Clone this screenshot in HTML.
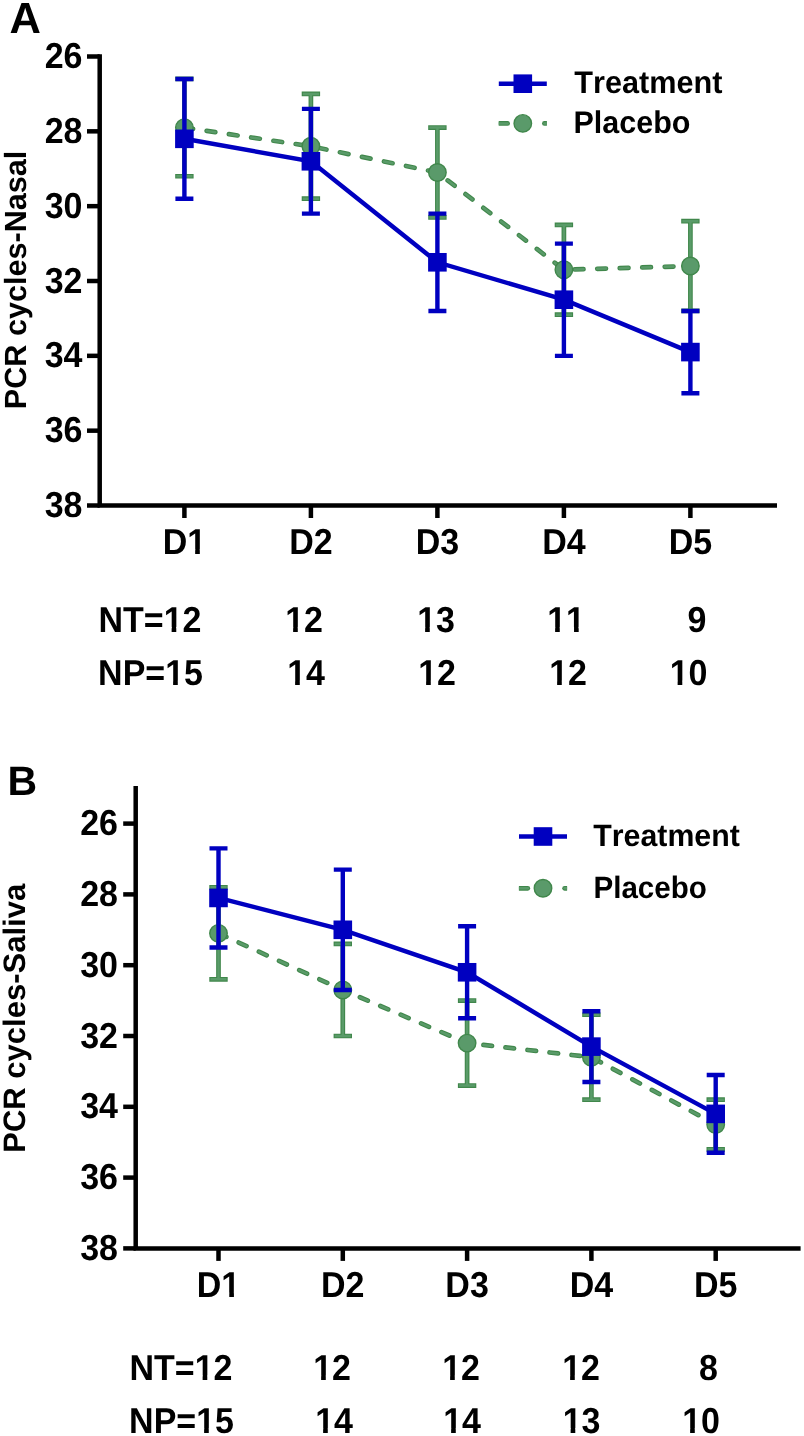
<!DOCTYPE html>
<html><head><meta charset="utf-8"><style>
html,body{margin:0;padding:0;background:#fff;}
svg{display:block;will-change:transform;}
text{font-family:"Liberation Sans", sans-serif;font-weight:bold;fill:#000;font-kerning:none;text-rendering:geometricPrecision;}
</style></head><body>
<svg width="804" height="1436" viewBox="0 0 804 1436">
<rect width="804" height="1436" fill="#fff"/>
<path d="M99.7 54.2 V505.504 H777" fill="none" stroke="#000" stroke-width="4.5" stroke-linecap="butt"/>
<line x1="87" y1="56.50" x2="99.7" y2="56.50" stroke="#000" stroke-width="4.5"/>
<text transform="translate(82.5 68.10) scale(1 1.06)" text-anchor="end" font-size="34">26</text>
<line x1="87" y1="131.33" x2="99.7" y2="131.33" stroke="#000" stroke-width="4.5"/>
<text transform="translate(82.5 142.93) scale(1 1.06)" text-anchor="end" font-size="34">28</text>
<line x1="87" y1="206.17" x2="99.7" y2="206.17" stroke="#000" stroke-width="4.5"/>
<text transform="translate(82.5 217.77) scale(1 1.06)" text-anchor="end" font-size="34">30</text>
<line x1="87" y1="281.00" x2="99.7" y2="281.00" stroke="#000" stroke-width="4.5"/>
<text transform="translate(82.5 292.60) scale(1 1.06)" text-anchor="end" font-size="34">32</text>
<line x1="87" y1="355.84" x2="99.7" y2="355.84" stroke="#000" stroke-width="4.5"/>
<text transform="translate(82.5 367.44) scale(1 1.06)" text-anchor="end" font-size="34">34</text>
<line x1="87" y1="430.67" x2="99.7" y2="430.67" stroke="#000" stroke-width="4.5"/>
<text transform="translate(82.5 442.27) scale(1 1.06)" text-anchor="end" font-size="34">36</text>
<line x1="87" y1="505.50" x2="99.7" y2="505.50" stroke="#000" stroke-width="4.5"/>
<text transform="translate(82.5 517.10) scale(1 1.06)" text-anchor="end" font-size="34">38</text>
<line x1="184.40" y1="505.504" x2="184.40" y2="518.00" stroke="#000" stroke-width="4.5"/>
<text transform="translate(184.40 553.7) scale(1 1.06)" text-anchor="middle" font-size="34">D1</text>
<rect x="187.22" y="549.12" width="7.94" height="5.78" fill="#fff"/>
<rect x="199.82" y="549.12" width="6.31" height="5.78" fill="#fff"/>
<line x1="310.90" y1="505.504" x2="310.90" y2="518.00" stroke="#000" stroke-width="4.5"/>
<text transform="translate(310.90 553.7) scale(1 1.06)" text-anchor="middle" font-size="34">D2</text>
<line x1="437.40" y1="505.504" x2="437.40" y2="518.00" stroke="#000" stroke-width="4.5"/>
<text transform="translate(437.40 553.7) scale(1 1.06)" text-anchor="middle" font-size="34">D3</text>
<line x1="563.90" y1="505.504" x2="563.90" y2="518.00" stroke="#000" stroke-width="4.5"/>
<text transform="translate(563.90 553.7) scale(1 1.06)" text-anchor="middle" font-size="34">D4</text>
<line x1="690.40" y1="505.504" x2="690.40" y2="518.00" stroke="#000" stroke-width="4.5"/>
<text transform="translate(690.40 553.7) scale(1 1.06)" text-anchor="middle" font-size="34">D5</text>
<path d="M184.40 127.59 L310.90 146.30 L437.40 172.49 L563.90 269.78 L690.40 266.04" fill="none" stroke="#40874b" stroke-width="4.7" stroke-dasharray="8.75 13.75" stroke-linecap="round" stroke-linejoin="round"/>
<path d="M184.40 127.59 L310.90 146.30 L437.40 172.49 L563.90 269.78 L690.40 266.04" fill="none" stroke="#5a9b69" stroke-width="2.5" stroke-dasharray="8.75 13.75" stroke-linecap="round" stroke-linejoin="round"/>
<path d="M184.40 78.95 V176.23 M175.20 78.95 H193.60 M175.20 176.23 H193.60" stroke="#40874b" stroke-width="4.7" fill="none"/>
<path d="M184.40 78.95 V176.23 M176.30 78.95 H192.50 M176.30 176.23 H192.50" stroke="#5a9b69" stroke-width="2.5" fill="none"/>
<path d="M310.90 93.92 V198.68 M301.70 93.92 H320.10 M301.70 198.68 H320.10" stroke="#40874b" stroke-width="4.7" fill="none"/>
<path d="M310.90 93.92 V198.68 M302.80 93.92 H319.00 M302.80 198.68 H319.00" stroke="#5a9b69" stroke-width="2.5" fill="none"/>
<path d="M437.40 127.59 V217.39 M428.20 127.59 H446.60 M428.20 217.39 H446.60" stroke="#40874b" stroke-width="4.7" fill="none"/>
<path d="M437.40 127.59 V217.39 M429.30 127.59 H445.50 M429.30 217.39 H445.50" stroke="#5a9b69" stroke-width="2.5" fill="none"/>
<path d="M563.90 224.88 V314.68 M554.70 224.88 H573.10 M554.70 314.68 H573.10" stroke="#40874b" stroke-width="4.7" fill="none"/>
<path d="M563.90 224.88 V314.68 M555.80 224.88 H572.00 M555.80 314.68 H572.00" stroke="#5a9b69" stroke-width="2.5" fill="none"/>
<path d="M690.40 221.13 V310.94 M681.20 221.13 H699.60 M681.20 310.94 H699.60" stroke="#40874b" stroke-width="4.7" fill="none"/>
<path d="M690.40 221.13 V310.94 M682.30 221.13 H698.50 M682.30 310.94 H698.50" stroke="#5a9b69" stroke-width="2.5" fill="none"/>
<circle cx="184.40" cy="127.59" r="8.75" fill="#5a9a6a" stroke="#40874b" stroke-width="1.4"/>
<circle cx="310.90" cy="146.30" r="8.75" fill="#5a9a6a" stroke="#40874b" stroke-width="1.4"/>
<circle cx="437.40" cy="172.49" r="8.75" fill="#5a9a6a" stroke="#40874b" stroke-width="1.4"/>
<circle cx="563.90" cy="269.78" r="8.75" fill="#5a9a6a" stroke="#40874b" stroke-width="1.4"/>
<circle cx="690.40" cy="266.04" r="8.75" fill="#5a9a6a" stroke="#40874b" stroke-width="1.4"/>
<path d="M184.40 138.82 L310.90 161.27 L437.40 262.29 L563.90 299.71 L690.40 352.09" fill="none" stroke="#0000c0" stroke-width="4.5"/>
<path d="M184.40 78.95 V198.68 M175.40 78.95 H193.40 M175.40 198.68 H193.40" stroke="#0000c0" stroke-width="4.4" fill="none"/>
<path d="M310.90 108.88 V213.65 M301.90 108.88 H319.90 M301.90 213.65 H319.90" stroke="#0000c0" stroke-width="4.4" fill="none"/>
<path d="M437.40 213.65 V310.94 M428.40 213.65 H446.40 M428.40 310.94 H446.40" stroke="#0000c0" stroke-width="4.4" fill="none"/>
<path d="M563.90 243.59 V355.84 M554.90 243.59 H572.90 M554.90 355.84 H572.90" stroke="#0000c0" stroke-width="4.4" fill="none"/>
<path d="M690.40 310.94 V393.25 M681.40 310.94 H699.40 M681.40 393.25 H699.40" stroke="#0000c0" stroke-width="4.4" fill="none"/>
<rect x="175.10" y="129.52" width="18.6" height="18.6" fill="#0000c0"/>
<rect x="301.60" y="151.97" width="18.6" height="18.6" fill="#0000c0"/>
<rect x="428.10" y="252.99" width="18.6" height="18.6" fill="#0000c0"/>
<rect x="554.60" y="290.41" width="18.6" height="18.6" fill="#0000c0"/>
<rect x="681.10" y="342.79" width="18.6" height="18.6" fill="#0000c0"/>
<line x1="498.79999999999995" y1="83.7" x2="546.8" y2="83.7" stroke="#0000c0" stroke-width="4.5"/>
<rect x="513.5" y="74.4" width="18.6" height="18.6" fill="#0000c0"/>
<clipPath id="lcA"><rect x="498.69999999999993" y="117.4" width="48.2" height="12"/></clipPath>
<g clip-path="url(#lcA)">
<line x1="492.79999999999995" y1="123.4" x2="507.59999999999997" y2="123.4" stroke="#40874b" stroke-width="4.7" stroke-linecap="round"/>
<line x1="492.79999999999995" y1="123.4" x2="507.59999999999997" y2="123.4" stroke="#5a9b69" stroke-width="2.5" stroke-linecap="round"/>
<line x1="544.4" y1="123.4" x2="552.8" y2="123.4" stroke="#40874b" stroke-width="4.7" stroke-linecap="round"/>
<line x1="544.4" y1="123.4" x2="552.8" y2="123.4" stroke="#5a9b69" stroke-width="2.5" stroke-linecap="round"/>
</g>
<circle cx="522.8" cy="123.4" r="8.75" fill="#5a9a6a" stroke="#40874b" stroke-width="1.4"/>
<text transform="translate(574.3 93.3) scale(1.005 1.03)" font-size="30.5">Treatment</text>
<text transform="translate(573.5 132.8) scale(1.0 1.03)" font-size="30.5">Placebo</text>
<text x="9.5" y="32.8" font-size="43.5">A</text>
<text transform="translate(25.8 279.9) rotate(-90)" text-anchor="middle" font-size="30.6">PCR cycles-Nasal</text>
<text transform="translate(201.5 631.5) scale(1 1.06)" text-anchor="end" font-size="34">NT=12</text>
<rect x="163.68" y="626.92" width="7.94" height="5.78" fill="#fff"/>
<rect x="176.28" y="626.92" width="6.31" height="5.78" fill="#fff"/>
<text transform="translate(323 631.5) scale(1 1.06)" text-anchor="end" font-size="34">12</text>
<rect x="285.18" y="626.92" width="7.94" height="5.78" fill="#fff"/>
<rect x="297.78" y="626.92" width="6.31" height="5.78" fill="#fff"/>
<text transform="translate(455 631.5) scale(1 1.06)" text-anchor="end" font-size="34">13</text>
<rect x="417.18" y="626.92" width="7.94" height="5.78" fill="#fff"/>
<rect x="429.78" y="626.92" width="6.31" height="5.78" fill="#fff"/>
<text transform="translate(585 631.5) scale(1 1.06)" text-anchor="end" font-size="34">11</text>
<rect x="547.18" y="626.92" width="7.94" height="5.78" fill="#fff"/>
<rect x="559.78" y="626.92" width="6.31" height="5.78" fill="#fff"/>
<rect x="566.09" y="626.92" width="7.94" height="5.78" fill="#fff"/>
<rect x="578.69" y="626.92" width="6.31" height="5.78" fill="#fff"/>
<text transform="translate(706.5 631.5) scale(1 1.06)" text-anchor="end" font-size="34">9</text>
<text transform="translate(203 685.3) scale(1 1.06)" text-anchor="end" font-size="34">NP=15</text>
<rect x="165.18" y="680.72" width="7.94" height="5.78" fill="#fff"/>
<rect x="177.78" y="680.72" width="6.31" height="5.78" fill="#fff"/>
<text transform="translate(325 685.3) scale(1 1.06)" text-anchor="end" font-size="34">14</text>
<rect x="287.18" y="680.72" width="7.94" height="5.78" fill="#fff"/>
<rect x="299.78" y="680.72" width="6.31" height="5.78" fill="#fff"/>
<text transform="translate(456 685.3) scale(1 1.06)" text-anchor="end" font-size="34">12</text>
<rect x="418.18" y="680.72" width="7.94" height="5.78" fill="#fff"/>
<rect x="430.78" y="680.72" width="6.31" height="5.78" fill="#fff"/>
<text transform="translate(587 685.3) scale(1 1.06)" text-anchor="end" font-size="34">12</text>
<rect x="549.18" y="680.72" width="7.94" height="5.78" fill="#fff"/>
<rect x="561.78" y="680.72" width="6.31" height="5.78" fill="#fff"/>
<text transform="translate(707.5 685.3) scale(1 1.06)" text-anchor="end" font-size="34">10</text>
<rect x="669.68" y="680.72" width="7.94" height="5.78" fill="#fff"/>
<rect x="682.28" y="680.72" width="6.31" height="5.78" fill="#fff"/>
<path d="M135.7 785.9 V1248.4 H800.6" fill="none" stroke="#000" stroke-width="4.5" stroke-linecap="butt"/>
<line x1="123.2" y1="823.60" x2="135.7" y2="823.60" stroke="#000" stroke-width="4.5"/>
<text transform="translate(118 835.20) scale(1 1.06)" text-anchor="end" font-size="34">26</text>
<line x1="123.2" y1="894.40" x2="135.7" y2="894.40" stroke="#000" stroke-width="4.5"/>
<text transform="translate(118 906.00) scale(1 1.06)" text-anchor="end" font-size="34">28</text>
<line x1="123.2" y1="965.20" x2="135.7" y2="965.20" stroke="#000" stroke-width="4.5"/>
<text transform="translate(118 976.80) scale(1 1.06)" text-anchor="end" font-size="34">30</text>
<line x1="123.2" y1="1036.00" x2="135.7" y2="1036.00" stroke="#000" stroke-width="4.5"/>
<text transform="translate(118 1047.60) scale(1 1.06)" text-anchor="end" font-size="34">32</text>
<line x1="123.2" y1="1106.80" x2="135.7" y2="1106.80" stroke="#000" stroke-width="4.5"/>
<text transform="translate(118 1118.40) scale(1 1.06)" text-anchor="end" font-size="34">34</text>
<line x1="123.2" y1="1177.60" x2="135.7" y2="1177.60" stroke="#000" stroke-width="4.5"/>
<text transform="translate(118 1189.20) scale(1 1.06)" text-anchor="end" font-size="34">36</text>
<line x1="123.2" y1="1248.40" x2="135.7" y2="1248.40" stroke="#000" stroke-width="4.5"/>
<text transform="translate(118 1260.00) scale(1 1.06)" text-anchor="end" font-size="34">38</text>
<line x1="218.50" y1="1248.4" x2="218.50" y2="1260.90" stroke="#000" stroke-width="4.5"/>
<text transform="translate(218.50 1297.2) scale(1 1.06)" text-anchor="middle" font-size="34">D1</text>
<rect x="221.32" y="1292.62" width="7.94" height="5.78" fill="#fff"/>
<rect x="233.92" y="1292.62" width="6.31" height="5.78" fill="#fff"/>
<line x1="342.80" y1="1248.4" x2="342.80" y2="1260.90" stroke="#000" stroke-width="4.5"/>
<text transform="translate(342.80 1297.2) scale(1 1.06)" text-anchor="middle" font-size="34">D2</text>
<line x1="467.10" y1="1248.4" x2="467.10" y2="1260.90" stroke="#000" stroke-width="4.5"/>
<text transform="translate(467.10 1297.2) scale(1 1.06)" text-anchor="middle" font-size="34">D3</text>
<line x1="591.40" y1="1248.4" x2="591.40" y2="1260.90" stroke="#000" stroke-width="4.5"/>
<text transform="translate(591.40 1297.2) scale(1 1.06)" text-anchor="middle" font-size="34">D4</text>
<line x1="715.70" y1="1248.4" x2="715.70" y2="1260.90" stroke="#000" stroke-width="4.5"/>
<text transform="translate(715.70 1297.2) scale(1 1.06)" text-anchor="middle" font-size="34">D5</text>
<path d="M218.50 933.34 L342.80 989.98 L467.10 1043.08 L591.40 1057.24 L715.70 1124.50" fill="none" stroke="#40874b" stroke-width="4.7" stroke-dasharray="8.62 13.55" stroke-linecap="round" stroke-linejoin="round"/>
<path d="M218.50 933.34 L342.80 989.98 L467.10 1043.08 L591.40 1057.24 L715.70 1124.50" fill="none" stroke="#5a9b69" stroke-width="2.5" stroke-dasharray="8.62 13.55" stroke-linecap="round" stroke-linejoin="round"/>
<path d="M218.50 887.32 V979.36 M209.30 887.32 H227.70 M209.30 979.36 H227.70" stroke="#40874b" stroke-width="4.7" fill="none"/>
<path d="M218.50 887.32 V979.36 M210.40 887.32 H226.60 M210.40 979.36 H226.60" stroke="#5a9b69" stroke-width="2.5" fill="none"/>
<path d="M342.80 943.96 V1036.00 M333.60 943.96 H352.00 M333.60 1036.00 H352.00" stroke="#40874b" stroke-width="4.7" fill="none"/>
<path d="M342.80 943.96 V1036.00 M334.70 943.96 H350.90 M334.70 1036.00 H350.90" stroke="#5a9b69" stroke-width="2.5" fill="none"/>
<path d="M467.10 1000.60 V1085.56 M457.90 1000.60 H476.30 M457.90 1085.56 H476.30" stroke="#40874b" stroke-width="4.7" fill="none"/>
<path d="M467.10 1000.60 V1085.56 M459.00 1000.60 H475.20 M459.00 1085.56 H475.20" stroke="#5a9b69" stroke-width="2.5" fill="none"/>
<path d="M591.40 1014.76 V1099.72 M582.20 1014.76 H600.60 M582.20 1099.72 H600.60" stroke="#40874b" stroke-width="4.7" fill="none"/>
<path d="M591.40 1014.76 V1099.72 M583.30 1014.76 H599.50 M583.30 1099.72 H599.50" stroke="#5a9b69" stroke-width="2.5" fill="none"/>
<path d="M715.70 1099.72 V1149.28 M706.50 1099.72 H724.90 M706.50 1149.28 H724.90" stroke="#40874b" stroke-width="4.7" fill="none"/>
<path d="M715.70 1099.72 V1149.28 M707.60 1099.72 H723.80 M707.60 1149.28 H723.80" stroke="#5a9b69" stroke-width="2.5" fill="none"/>
<circle cx="218.50" cy="933.34" r="8.75" fill="#5a9a6a" stroke="#40874b" stroke-width="1.4"/>
<circle cx="342.80" cy="989.98" r="8.75" fill="#5a9a6a" stroke="#40874b" stroke-width="1.4"/>
<circle cx="467.10" cy="1043.08" r="8.75" fill="#5a9a6a" stroke="#40874b" stroke-width="1.4"/>
<circle cx="591.40" cy="1057.24" r="8.75" fill="#5a9a6a" stroke="#40874b" stroke-width="1.4"/>
<circle cx="715.70" cy="1124.50" r="8.75" fill="#5a9a6a" stroke="#40874b" stroke-width="1.4"/>
<path d="M218.50 897.94 L342.80 929.80 L467.10 972.28 L591.40 1046.62 L715.70 1113.88" fill="none" stroke="#0000c0" stroke-width="4.5"/>
<path d="M218.50 848.38 V947.50 M209.50 848.38 H227.50 M209.50 947.50 H227.50" stroke="#0000c0" stroke-width="4.4" fill="none"/>
<path d="M342.80 869.62 V989.98 M333.80 869.62 H351.80 M333.80 989.98 H351.80" stroke="#0000c0" stroke-width="4.4" fill="none"/>
<path d="M467.10 926.26 V1018.30 M458.10 926.26 H476.10 M458.10 1018.30 H476.10" stroke="#0000c0" stroke-width="4.4" fill="none"/>
<path d="M591.40 1011.22 V1082.02 M582.40 1011.22 H600.40 M582.40 1082.02 H600.40" stroke="#0000c0" stroke-width="4.4" fill="none"/>
<path d="M715.70 1074.94 V1152.82 M706.70 1074.94 H724.70 M706.70 1152.82 H724.70" stroke="#0000c0" stroke-width="4.4" fill="none"/>
<rect x="209.20" y="888.64" width="18.6" height="18.6" fill="#0000c0"/>
<rect x="333.50" y="920.50" width="18.6" height="18.6" fill="#0000c0"/>
<rect x="457.80" y="962.98" width="18.6" height="18.6" fill="#0000c0"/>
<rect x="582.10" y="1037.32" width="18.6" height="18.6" fill="#0000c0"/>
<rect x="706.40" y="1104.58" width="18.6" height="18.6" fill="#0000c0"/>
<line x1="519" y1="836.5" x2="567" y2="836.5" stroke="#0000c0" stroke-width="4.5"/>
<rect x="533.7" y="827.2" width="18.6" height="18.6" fill="#0000c0"/>
<clipPath id="lcB"><rect x="518.9" y="882.3" width="48.2" height="12"/></clipPath>
<g clip-path="url(#lcB)">
<line x1="513" y1="888.3" x2="527.8" y2="888.3" stroke="#40874b" stroke-width="4.7" stroke-linecap="round"/>
<line x1="513" y1="888.3" x2="527.8" y2="888.3" stroke="#5a9b69" stroke-width="2.5" stroke-linecap="round"/>
<line x1="564.6" y1="888.3" x2="573" y2="888.3" stroke="#40874b" stroke-width="4.7" stroke-linecap="round"/>
<line x1="564.6" y1="888.3" x2="573" y2="888.3" stroke="#5a9b69" stroke-width="2.5" stroke-linecap="round"/>
</g>
<circle cx="543" cy="888.3" r="8.75" fill="#5a9a6a" stroke="#40874b" stroke-width="1.4"/>
<text transform="translate(593.3 845.6) scale(1.01 1.03)" font-size="30">Treatment</text>
<text transform="translate(593.5 898.2) scale(0.985 1.03)" font-size="30">Placebo</text>
<text x="7.5" y="795" font-size="41">B</text>
<text transform="translate(25.3 1018.3) rotate(-90)" text-anchor="middle" font-size="31">PCR cycles-Saliva</text>
<text transform="translate(232.5 1380.1) scale(1 1.06)" text-anchor="end" font-size="34">NT=12</text>
<rect x="194.68" y="1375.52" width="7.94" height="5.78" fill="#fff"/>
<rect x="207.28" y="1375.52" width="6.31" height="5.78" fill="#fff"/>
<text transform="translate(351 1380.1) scale(1 1.06)" text-anchor="end" font-size="34">12</text>
<rect x="313.18" y="1375.52" width="7.94" height="5.78" fill="#fff"/>
<rect x="325.78" y="1375.52" width="6.31" height="5.78" fill="#fff"/>
<text transform="translate(480 1380.1) scale(1 1.06)" text-anchor="end" font-size="34">12</text>
<rect x="442.18" y="1375.52" width="7.94" height="5.78" fill="#fff"/>
<rect x="454.78" y="1375.52" width="6.31" height="5.78" fill="#fff"/>
<text transform="translate(600 1380.1) scale(1 1.06)" text-anchor="end" font-size="34">12</text>
<rect x="562.18" y="1375.52" width="7.94" height="5.78" fill="#fff"/>
<rect x="574.78" y="1375.52" width="6.31" height="5.78" fill="#fff"/>
<text transform="translate(718 1380.1) scale(1 1.06)" text-anchor="end" font-size="34">8</text>
<text transform="translate(234 1432.8) scale(1 1.06)" text-anchor="end" font-size="34">NP=15</text>
<rect x="196.18" y="1428.22" width="7.94" height="5.78" fill="#fff"/>
<rect x="208.78" y="1428.22" width="6.31" height="5.78" fill="#fff"/>
<text transform="translate(353 1432.8) scale(1 1.06)" text-anchor="end" font-size="34">14</text>
<rect x="315.18" y="1428.22" width="7.94" height="5.78" fill="#fff"/>
<rect x="327.78" y="1428.22" width="6.31" height="5.78" fill="#fff"/>
<text transform="translate(481 1432.8) scale(1 1.06)" text-anchor="end" font-size="34">14</text>
<rect x="443.18" y="1428.22" width="7.94" height="5.78" fill="#fff"/>
<rect x="455.78" y="1428.22" width="6.31" height="5.78" fill="#fff"/>
<text transform="translate(600.5 1432.8) scale(1 1.06)" text-anchor="end" font-size="34">13</text>
<rect x="562.68" y="1428.22" width="7.94" height="5.78" fill="#fff"/>
<rect x="575.28" y="1428.22" width="6.31" height="5.78" fill="#fff"/>
<text transform="translate(720 1432.8) scale(1 1.06)" text-anchor="end" font-size="34">10</text>
<rect x="682.18" y="1428.22" width="7.94" height="5.78" fill="#fff"/>
<rect x="694.78" y="1428.22" width="6.31" height="5.78" fill="#fff"/>
</svg>
</body></html>
